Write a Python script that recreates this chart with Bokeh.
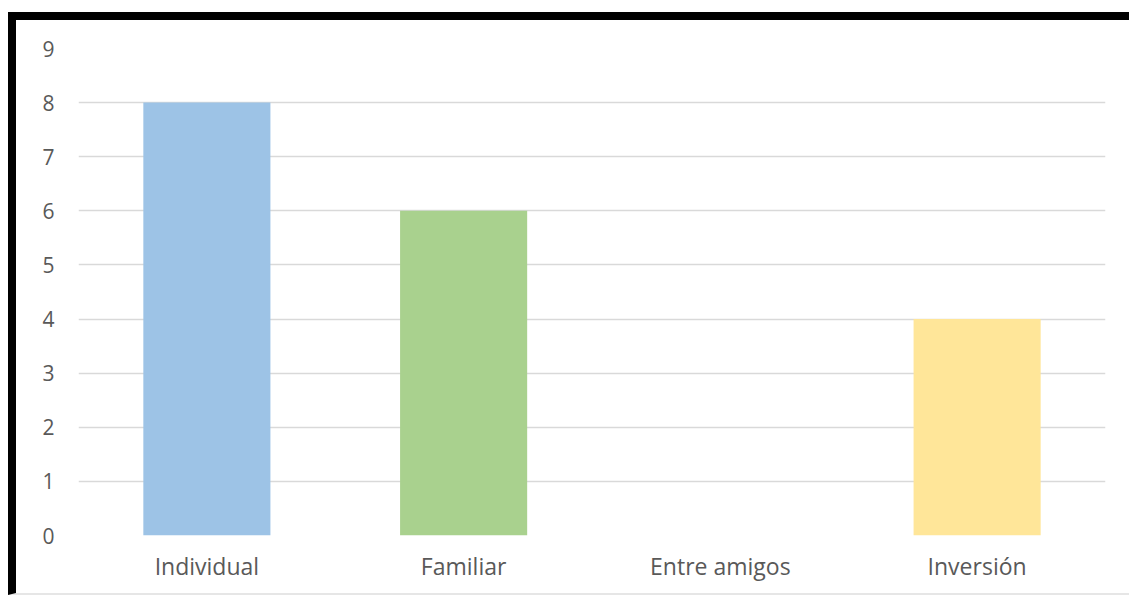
from bokeh.plotting import figure
from bokeh.models import ColumnDataSource, FixedTicker, Range1d
from bokeh.layouts import column
from bokeh.embed import file_html
from bokeh.resources import INLINE

categories = ["Individual", "Familiar", "Entre amigos", "Inversión"]
values = [8, 6, 0, 4]
colors = ["#9dc3e6", "#a9d18e", "#c9c9c9", "#ffe699"]
y_ticks = [0, 1, 2, 3, 4, 5, 6, 7, 8, 9]

src = ColumnDataSource(dict(cat=categories, val=values, color=colors))

p = figure(x_range=categories, y_range=Range1d(0, 9),
           width=1113, height=573, output_backend="svg", toolbar_location=None,
           min_border_left=62, min_border_right=24, min_border_top=28, min_border_bottom=58)

p.vbar(x="cat", top="val", width=0.495, fill_color="color", line_color=None, source=src)

p.outline_line_color = None
p.xgrid.grid_line_color = None
p.ygrid.grid_line_color = "#d9d9d9"
p.ygrid.grid_line_width = 1.5
p.yaxis.ticker = FixedTicker(ticks=y_ticks)
for ax in (p.xaxis, p.yaxis):
    ax.axis_line_color = None
    ax.major_tick_line_color = None
    ax.minor_tick_line_color = None
    ax.major_label_text_color = "#595959"
    ax.major_label_text_font = "Open Sans"
p.xaxis.major_label_text_font_size = "23px"
p.yaxis.major_label_text_font_size = "21px"
p.yaxis.major_label_standoff = 18
p.xaxis.major_label_standoff = 8
p.x_range.range_padding = 0

layout = column(p, styles={"border-left": "8px solid black", "border-top": "8px solid black",
                           "border-bottom": "2px solid #e6e6e6",
                           "margin-top": "12px", "margin-left": "8px"})

open("out.html", "w").write(file_html(layout, INLINE))
